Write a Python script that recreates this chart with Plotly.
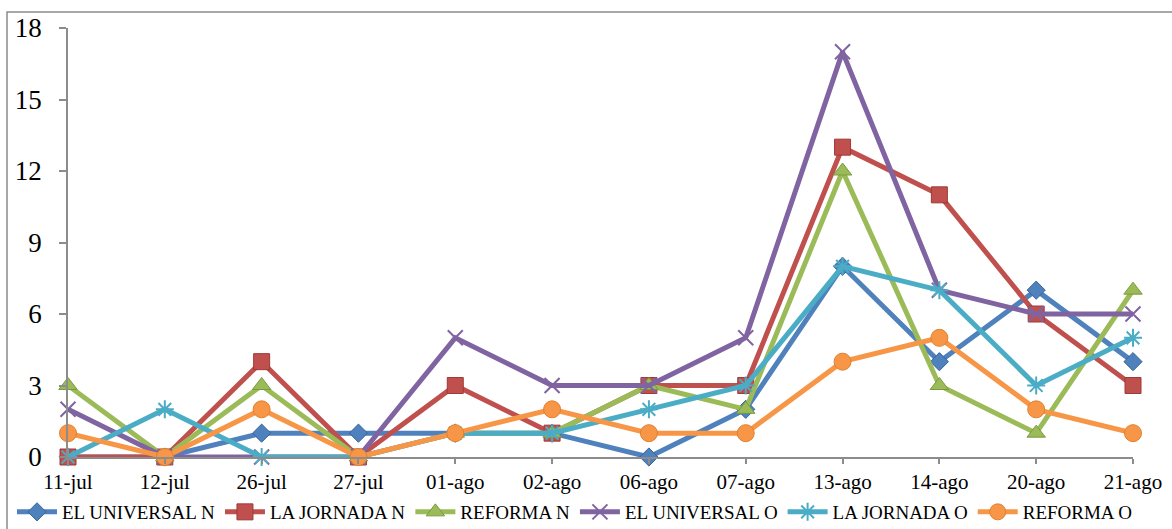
import plotly.graph_objects as go

# Fechas de publicación
fechas = ["11-jul", "12-jul", "26-jul", "27-jul", "01-ago", "02-ago",
          "06-ago", "07-ago", "13-ago", "14-ago", "20-ago", "21-ago"]

# Número de notas por periódico
el_universal_n = [0, 0, 1, 1, 1, 1, 0, 2, 8, 4, 7, 4]
la_jornada_n = [0, 0, 4, 0, 3, 1, 3, 3, 13, 11, 6, 3]
reforma_n = [3, 0, 3, 0, 1, 1, 3, 2, 12, 3, 1, 7]
el_universal_o = [2, 0, 0, 0, 5, 3, 3, 5, 17, 7, 6, 6]
la_jornada_o = [0, 2, 0, 0, 1, 1, 2, 3, 8, 7, 3, 5]
reforma_o = [1, 0, 2, 0, 1, 2, 1, 1, 4, 5, 2, 1]

y_ticks = [0, 3, 6, 9, 12, 15, 18]

series = [
    ("EL UNIVERSAL N", el_universal_n, "#4F81BD", "diamond", 14, "#3A6499", 1),
    ("LA JORNADA N", la_jornada_n, "#C0504D", "square", 16, "#9E3A37", 1),
    ("REFORMA N", reforma_n, "#9BBB59", "triangle-up", 16, "#7A9A3E", 1),
    ("EL UNIVERSAL O", el_universal_o, "#8064A2", "x-thin-open", 15, "#8064A2", 2),
    ("LA JORNADA O", la_jornada_o, "#4BACC6", "asterisk-open", 15, "#4BACC6", 2),
    ("REFORMA O", reforma_o, "#F79646", "circle", 17, "#E0812F", 1),
]

fig = go.Figure()
for name, vals, color, symbol, size, edge, edge_w in series:
    fig.add_trace(go.Scatter(
        x=list(range(len(fechas))), y=vals, name=name, mode="lines+markers",
        line=dict(color=color, width=5),
        marker=dict(symbol=symbol, size=size, color=color,
                    line=dict(color=edge, width=edge_w)),
        cliponaxis=False,
    ))

W, H = 1172, 529
ml, mr, mt, mb = 68, 39, 28, 72
pw, ph = W - ml - mr, H - mt - mb

def px_to_paper_x(px):
    return (px - ml) / pw

def px_to_paper_y(py):
    return (H - mb - py) / ph

serif = "Liberation Serif"
axis_grey = "#8C8C8C"

fig.update_layout(
    width=W, height=H,
    margin=dict(l=ml, r=mr, t=mt, b=mb, autoexpand=False),
    paper_bgcolor="white", plot_bgcolor="white",
    font=dict(family=serif, color="black"),
    showlegend=True,
    legend=dict(
        orientation="h", x=px_to_paper_x(12), xanchor="left",
        y=px_to_paper_y(512), yanchor="middle",
        font=dict(family=serif, size=19, color="black"),
        bgcolor="rgba(0,0,0,0)", tracegroupgap=0, itemwidth=40,
    ),
    xaxis=dict(
        range=[0, len(fechas) - 1], automargin=False,
        tickmode="array", tickvals=list(range(len(fechas))), ticktext=fechas,
        showgrid=False, zeroline=False,
        showline=True, linecolor=axis_grey, linewidth=1.5,
        ticks="outside", ticklen=5, tickcolor=axis_grey, tickwidth=1.5,
        tickfont=dict(family=serif, size=21, color="black"),
    ),
    yaxis=dict(
        range=[0, 18], automargin=False, tickmode="array", tickvals=y_ticks,
        showgrid=False, zeroline=False,
        showline=True, linecolor=axis_grey, linewidth=1.5,
        ticks="outside", ticklen=7, tickcolor=axis_grey, tickwidth=1.5,
        ticklabelstandoff=12,
        tickfont=dict(family=serif, size=27, color="black"),
    ),
    shapes=[dict(
        type="rect", xref="paper", yref="paper", layer="below",
        x0=px_to_paper_x(7), x1=px_to_paper_x(1190),
        y0=px_to_paper_y(545), y1=px_to_paper_y(12),
        line=dict(color="#8C8C8C", width=1.5), fillcolor="rgba(0,0,0,0)",
    )],
)

fig.write_html("out.html")
